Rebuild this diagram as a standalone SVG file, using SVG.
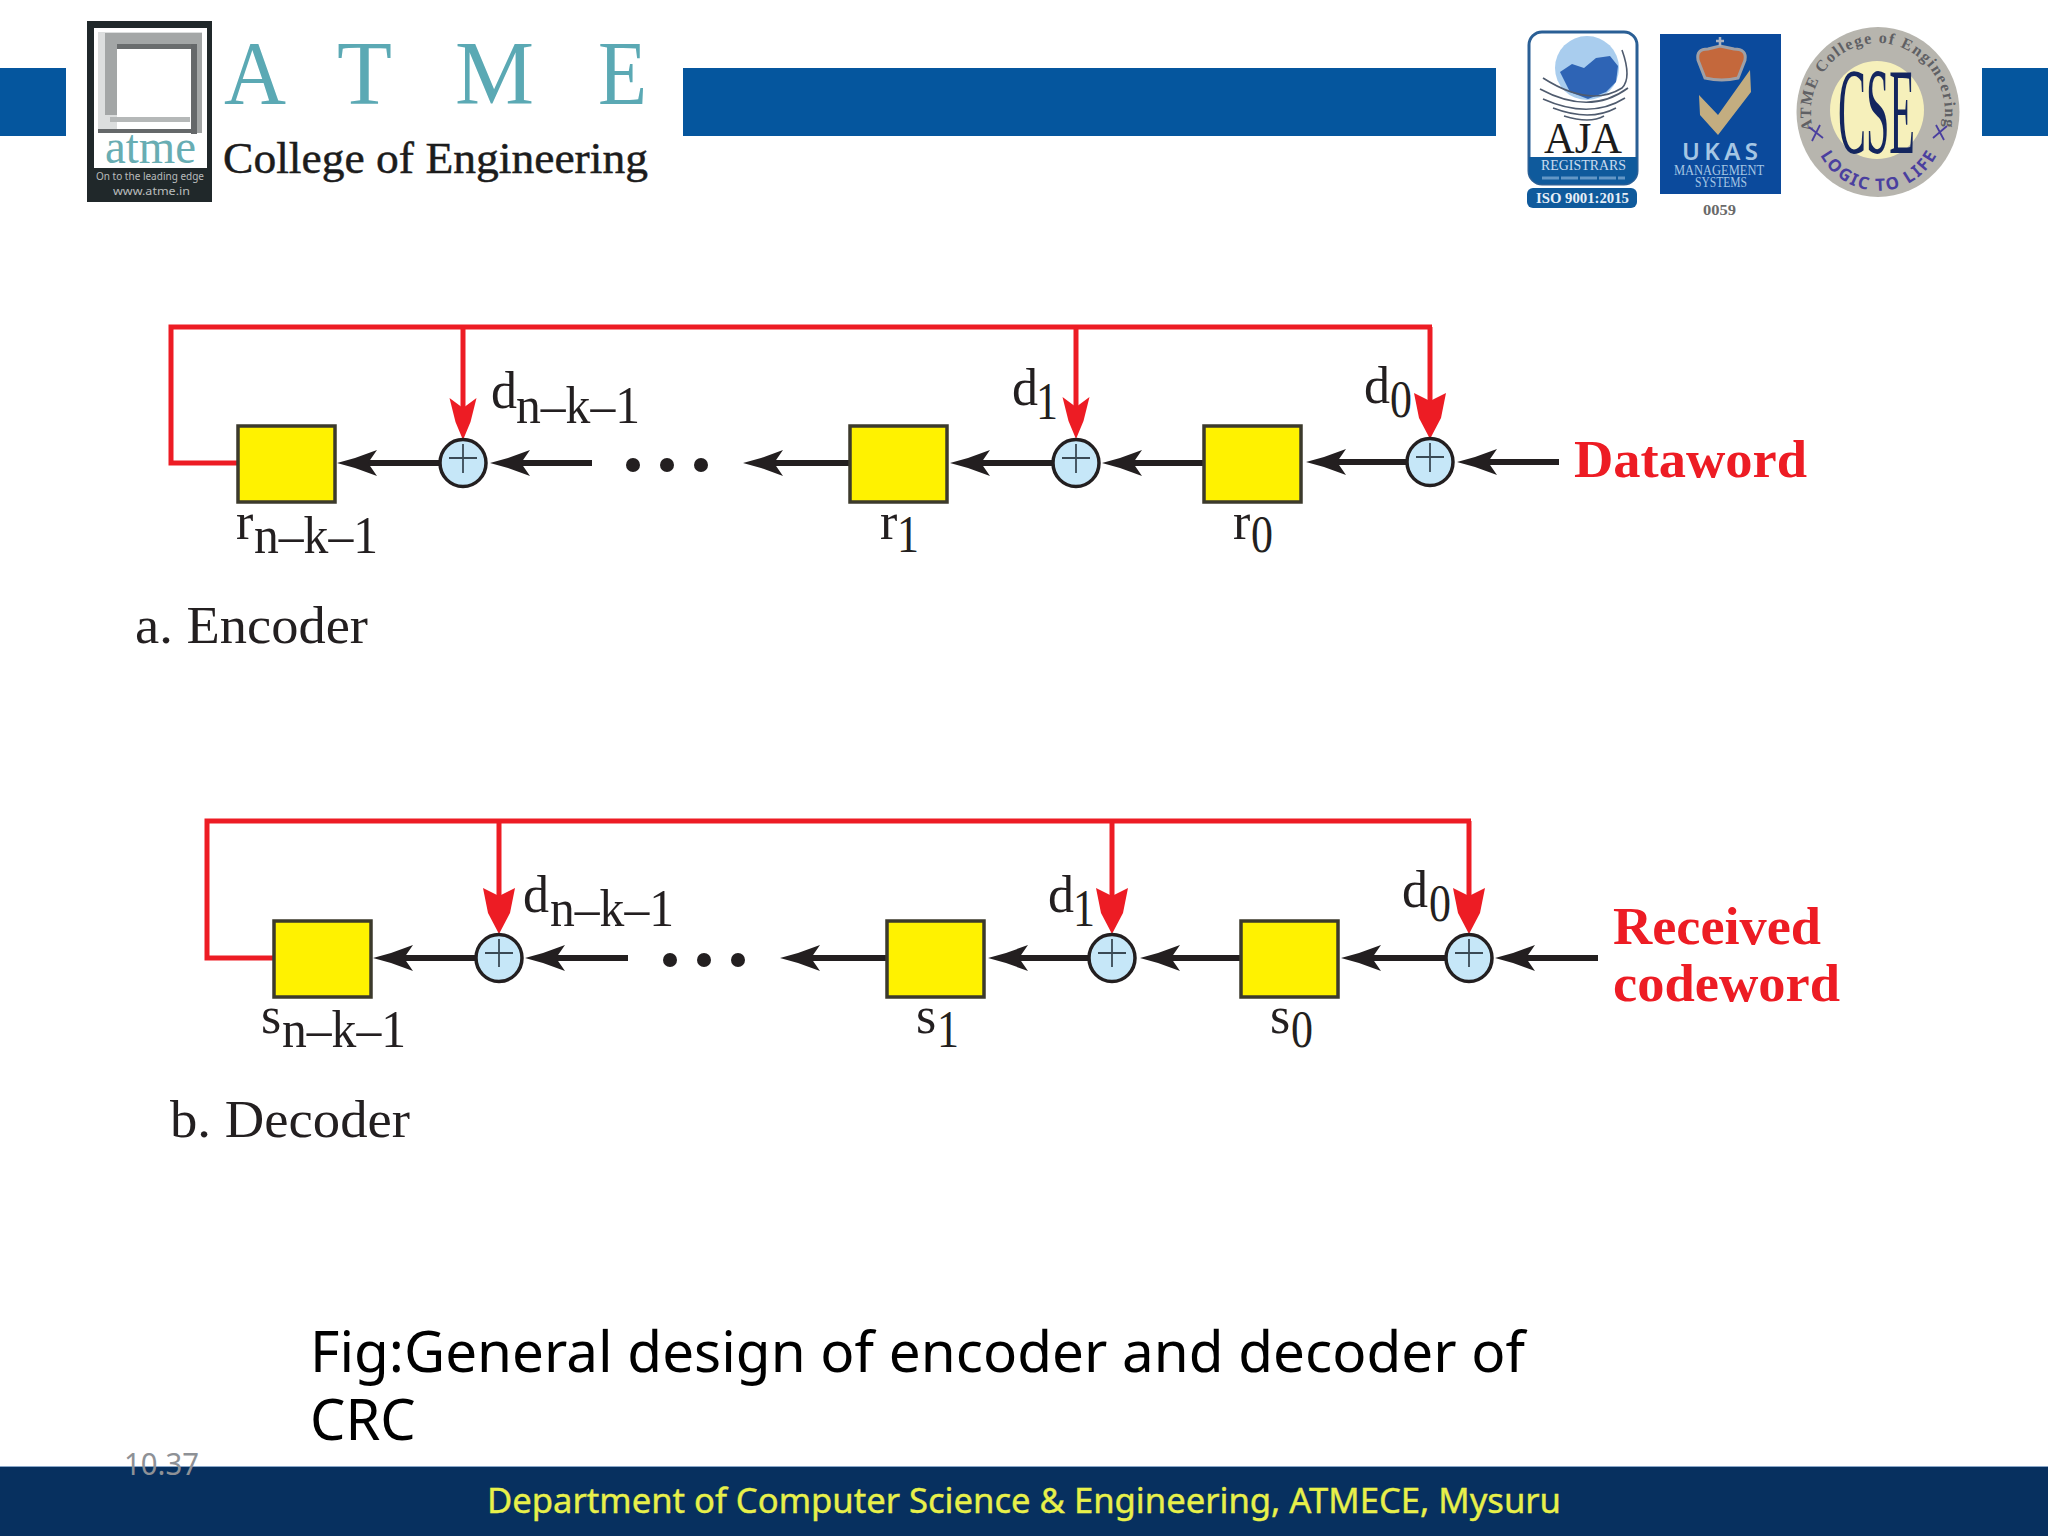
<svg xmlns="http://www.w3.org/2000/svg" width="2048" height="1536" viewBox="0 0 2048 1536">
<style>
.t{font-family:"Liberation Serif",serif;font-size:52px;fill:#231f20}
.b{font-family:"Liberation Serif",serif;font-size:52px;font-weight:700;fill:#ed1c24}
.reg{fill:#fff200;stroke:#3c3a2c;stroke-width:3.5}
.xor{fill:#c6e7f8;stroke:#231f20;stroke-width:3.5}
.plus{stroke:#3a4a55;stroke-width:1.8;fill:none}
.red{fill:none;stroke:#ed1c24;stroke-width:5}
.blk{fill:none;stroke:#231f20;stroke-width:6}
.s{font-family:"Liberation Serif",serif}
.a{font-family:"Noto Sans","Open Sans",sans-serif}
</style>
<defs>
<marker id="hb" markerUnits="userSpaceOnUse" markerWidth="44" markerHeight="30" refX="12" refY="13" orient="auto" viewBox="0 0 44 26"><path d="M40,13 L22,8 L0,0 L9,13 L0,26 L22,18 Z" fill="#231f20"/></marker>
<marker id="hr" markerUnits="userSpaceOnUse" markerWidth="44" markerHeight="30" refX="12" refY="13.5" orient="auto" viewBox="0 0 44 27"><path d="M42,13.5 L24,6 L0,0 L10,13.5 L0,27 L24,21 Z" fill="#ed1c24"/></marker>
<marker id="hw" markerUnits="userSpaceOnUse" markerWidth="48" markerHeight="34" refX="12" refY="16" orient="auto" viewBox="0 0 48 32"><path d="M46,16 L25,5 L0,0 L8,16 L0,32 L25,27 Z" fill="#ed1c24"/></marker>
<path id="arcTop" d="M-65,18 A67,70 0 1 1 65,18"/>
<path id="arcBot" d="M-62,34 A67,70 0 0 0 63,34"/>
</defs>
<rect width="2048" height="1536" fill="#fff"/>

<g id="header">
<rect x="0" y="68" width="66" height="68" fill="#05569e"/>
<rect x="683" y="68" width="813" height="68" fill="#05569e"/>
<rect x="1982" y="68" width="66" height="68" fill="#05569e"/>
</g>

<g id="atme-logo">
<rect x="87" y="21" width="125" height="181" fill="#20282a"/>
<rect x="94" y="28" width="113" height="140" fill="#fff"/>
<path d="M98,32 H202 V45 H117 V133 H98 Z" fill="#dcdede"/>
<path d="M105,33 H202 V133 H192 V44 H117 V115 H105 Z" fill="#a3a6a6"/>
<rect x="117" y="44" width="75" height="5" fill="#6a6d6e"/>
<rect x="191" y="44" width="6" height="90" fill="#65686a"/>
<rect x="98" y="129" width="99" height="4" fill="#65686a"/>
<rect x="110" y="117" width="80" height="5" fill="#b5b8b8"/>
<text x="105" y="163" class="s" font-size="48" fill="#68adb3" textLength="91" lengthAdjust="spacingAndGlyphs">atme</text>
<text x="96" y="180" class="a" font-size="11" fill="#b9bcbc" textLength="108" lengthAdjust="spacingAndGlyphs">On to the leading edge</text>
<text x="113" y="195" class="a" font-size="11" fill="#b9bcbc" textLength="77" lengthAdjust="spacingAndGlyphs">www.atme.in</text>
<g class="s" font-size="90" fill="#5ba9b4">
<text x="224" y="104" textLength="62" lengthAdjust="spacingAndGlyphs">A</text>
<text x="337" y="104" textLength="55" lengthAdjust="spacingAndGlyphs">T</text>
<text x="455" y="104" textLength="79" lengthAdjust="spacingAndGlyphs">M</text>
<text x="598" y="104" textLength="49" lengthAdjust="spacingAndGlyphs">E</text>
</g>
<text x="223" y="173" class="s" font-size="45" fill="#1c1c1c" stroke="#1c1c1c" stroke-width="0.5" textLength="425" lengthAdjust="spacingAndGlyphs">College of Engineering</text>
</g>

<g id="aja-logo">
<rect x="1529" y="32" width="108" height="152" rx="13" fill="#fff" stroke="#2a5f95" stroke-width="3"/>
<path d="M1529,157 H1637 V171 A13,13 0 0 1 1624,184 H1542 A13,13 0 0 1 1529,171 Z" fill="#0f5a9c"/>
<ellipse cx="1587" cy="68" rx="32" ry="32" fill="#a9cdee"/>
<path d="M1560,72 L1572,64 L1584,68 L1596,58 L1610,56 L1618,66 L1616,82 L1606,92 L1588,99 L1570,92 Z" fill="#2e64b5"/>
<g fill="none" stroke="#4f5b6e" stroke-width="1.6">
<path d="M1543,78 Q1590,108 1622,88 Q1632,78 1622,50"/>
<path d="M1540,89 Q1590,116 1628,88"/>
<path d="M1543,99 Q1590,120 1625,98"/>
<path d="M1553,108 Q1590,122 1616,108"/>
<path d="M1564,116 Q1590,124 1604,116"/>
</g>
<text x="1544" y="153" class="s" font-size="44" fill="#1c1c1c" textLength="78" lengthAdjust="spacingAndGlyphs">AJA</text>
<text x="1541" y="170" class="s" font-size="14" fill="#c9dcf0" textLength="85" lengthAdjust="spacingAndGlyphs">REGISTRARS</text>
<path d="M1542,178 H1625" stroke="#9cc0e2" stroke-width="3" stroke-dasharray="17 2" opacity="0.6"/>
<rect x="1527" y="188" width="110" height="20" rx="6" fill="#0f5a9c"/>
<text x="1536" y="203" class="s" font-size="14" font-weight="700" fill="#e6eef7" textLength="93" lengthAdjust="spacingAndGlyphs">ISO 9001:2015</text>
</g>

<g id="ukas-logo">
<rect x="1660" y="34" width="121" height="160" fill="#0b4a9c"/>
<path d="M1698,60 Q1696,49 1708,49 L1720,46 L1734,49 Q1747,49 1745,60 L1738,78 Q1722,82 1705,78 Z" fill="#c4683c" stroke="#9fa0a6" stroke-width="3"/>
<path d="M1720,37 V46 M1716,41 H1724" stroke="#a9b0bd" stroke-width="2.5"/>
<path d="M1699,95 L1718,115 L1750,70 L1751,92 L1718,135 L1700,115 Z" fill="#c3ad80"/>
<text x="1682" y="160" class="a" font-size="24" font-weight="600" fill="#a5c6e4" textLength="76" lengthAdjust="spacing">UKAS</text>
<text x="1674" y="175" class="s" font-size="14" fill="#a5c6e4" textLength="90" lengthAdjust="spacingAndGlyphs">MANAGEMENT</text>
<text x="1695" y="187" class="s" font-size="14" fill="#a5c6e4" textLength="52" lengthAdjust="spacingAndGlyphs">SYSTEMS</text>
<text x="1703" y="215" class="s" font-size="14" font-weight="700" fill="#6a6a6a" textLength="33" lengthAdjust="spacingAndGlyphs">0059</text>
</g>

<g id="cse-logo">
<ellipse cx="1878" cy="112" rx="81.5" ry="85" fill="#b7b5ae"/>
<ellipse cx="1877" cy="110" rx="47" ry="49" fill="#f6f0bb"/>
<text transform="translate(1838,153) scale(1,2.45)" class="s" font-size="50" fill="#14265f" textLength="77" lengthAdjust="spacingAndGlyphs">CSE</text>
<text transform="translate(1878,112)" class="s" font-size="16" font-weight="700" fill="#5f6064" letter-spacing="1.5"><textPath href="#arcTop">ATME College of Engineering</textPath></text>
<text transform="translate(1878,112)" class="a" font-size="17" font-weight="700" fill="#4a3f9f" letter-spacing="2"><textPath href="#arcBot" startOffset="10">LOGIC TO LIFE</textPath></text>
<path d="M1809,127 L1823,138 M1820,125 L1812,141 M1933,138 L1947,126 M1936,125 L1944,140" stroke="#4a3f9f" stroke-width="1.8" fill="none"/>
</g>

<g id="connectors">
<path class="red" d="M238,463 H171 V327 H1432"/>
<path class="red" marker-end="url(#hr)" d="M463,327 V410"/>
<path class="red" marker-end="url(#hr)" d="M1076,327 V409"/>
<path class="red" marker-end="url(#hw)" d="M1430,327 V405"/>
<path class="blk" marker-end="url(#hb)" d="M440,463 H365"/>
<path class="blk" marker-end="url(#hb)" d="M592,463 H518"/>
<path class="blk" marker-end="url(#hb)" d="M850,463 H771"/>
<path class="blk" marker-end="url(#hb)" d="M1053,463 H978"/>
<path class="blk" marker-end="url(#hb)" d="M1204,463 H1130"/>
<path class="blk" marker-end="url(#hb)" d="M1407,462 H1334"/>
<path class="blk" marker-end="url(#hb)" d="M1559,462 H1485"/>

<path class="red" d="M274,958 H207 V821 H1471"/>
<path class="red" marker-end="url(#hw)" d="M499,821 V900"/>
<path class="red" marker-end="url(#hw)" d="M1112,821 V900"/>
<path class="red" marker-end="url(#hw)" d="M1469,821 V900"/>
<path class="blk" marker-end="url(#hb)" d="M475,958 H401"/>
<path class="blk" marker-end="url(#hb)" d="M628,958 H553"/>
<path class="blk" marker-end="url(#hb)" d="M887,958 H808"/>
<path class="blk" marker-end="url(#hb)" d="M1088,958 H1016"/>
<path class="blk" marker-end="url(#hb)" d="M1241,958 H1168"/>
<path class="blk" marker-end="url(#hb)" d="M1445,958 H1369"/>
<path class="blk" marker-end="url(#hb)" d="M1598,958 H1523"/>
</g>

<g id="enc-r-n-k-1"><rect class="reg" x="238" y="426" width="97" height="76"/><text class="t" x="236" y="539">r</text><text class="t" x="254" y="553" textLength="124" lengthAdjust="spacingAndGlyphs">n–k–1</text></g>
<g id="enc-xor-n-k-1"><ellipse class="xor" cx="463" cy="463" rx="23" ry="23.5"/><path class="plus" d="M449,458 H477 M463,444 V473"/><text class="t" x="491" y="408">d</text><text class="t" x="516" y="423" textLength="124" lengthAdjust="spacingAndGlyphs">n–k–1</text></g>
<g id="enc-dots" fill="#231f20"><circle cx="633" cy="465" r="7"/><circle cx="667" cy="465" r="7"/><circle cx="701" cy="465" r="7"/></g>
<g id="enc-r1"><rect class="reg" x="850" y="426" width="97" height="76"/><text class="t" x="880" y="539">r</text><text class="t" x="897" y="552" textLength="22" lengthAdjust="spacingAndGlyphs">1</text></g>
<g id="enc-xor-1"><ellipse class="xor" cx="1076" cy="463" rx="23" ry="23.5"/><path class="plus" d="M1062,458 H1090 M1076,444 V473"/><text class="t" x="1012" y="405">d</text><text class="t" x="1036" y="419" textLength="22" lengthAdjust="spacingAndGlyphs">1</text></g>
<g id="enc-r0"><rect class="reg" x="1204" y="426" width="97" height="76"/><text class="t" x="1233" y="539">r</text><text class="t" x="1251" y="552" textLength="22" lengthAdjust="spacingAndGlyphs">0</text></g>
<g id="enc-xor-0"><ellipse class="xor" cx="1430" cy="462" rx="23" ry="23.5"/><path class="plus" d="M1416,457 H1444 M1430,443 V472"/><text class="t" x="1364" y="403">d</text><text class="t" x="1390" y="417" textLength="22" lengthAdjust="spacingAndGlyphs">0</text></g>
<text id="dataword" class="b" x="1574" y="477" textLength="233" lengthAdjust="spacingAndGlyphs">Dataword</text>
<text id="cap-a" class="t" x="135" y="643" textLength="233" lengthAdjust="spacingAndGlyphs">a. Encoder</text>

<g id="dec-s-n-k-1"><rect class="reg" x="274" y="921" width="97" height="76"/><text class="t" x="261" y="1033">s</text><text class="t" x="282" y="1047" textLength="124" lengthAdjust="spacingAndGlyphs">n–k–1</text></g>
<g id="dec-xor-n-k-1"><ellipse class="xor" cx="499" cy="958" rx="23" ry="23.5"/><path class="plus" d="M485,953 H513 M499,939 V967"/><text class="t" x="523" y="912">d</text><text class="t" x="550" y="926" textLength="124" lengthAdjust="spacingAndGlyphs">n–k–1</text></g>
<g id="dec-dots" fill="#231f20"><circle cx="670" cy="960" r="7"/><circle cx="704" cy="960" r="7"/><circle cx="738" cy="960" r="7"/></g>
<g id="dec-s1"><rect class="reg" x="887" y="921" width="97" height="76"/><text class="t" x="916" y="1033">s</text><text class="t" x="937" y="1047" textLength="22" lengthAdjust="spacingAndGlyphs">1</text></g>
<g id="dec-xor-1"><ellipse class="xor" cx="1112" cy="958" rx="23" ry="23.5"/><path class="plus" d="M1098,953 H1126 M1112,939 V967"/><text class="t" x="1048" y="912">d</text><text class="t" x="1073" y="926" textLength="22" lengthAdjust="spacingAndGlyphs">1</text></g>
<g id="dec-s0"><rect class="reg" x="1241" y="921" width="97" height="76"/><text class="t" x="1270" y="1033">s</text><text class="t" x="1291" y="1047" textLength="22" lengthAdjust="spacingAndGlyphs">0</text></g>
<g id="dec-xor-0"><ellipse class="xor" cx="1469" cy="958" rx="23" ry="23.5"/><path class="plus" d="M1455,953 H1483 M1469,939 V967"/><text class="t" x="1402" y="907">d</text><text class="t" x="1429" y="921" textLength="22" lengthAdjust="spacingAndGlyphs">0</text></g>
<g id="received"><text class="b" x="1613" y="944" textLength="208" lengthAdjust="spacingAndGlyphs">Received</text><text class="b" x="1613" y="1001" textLength="227" lengthAdjust="spacingAndGlyphs">codeword</text></g>
<text id="cap-b" class="t" x="170" y="1137" textLength="240" lengthAdjust="spacingAndGlyphs">b. Decoder</text>

<g id="caption" class="a" font-size="56" fill="#000">
<text x="310" y="1372" textLength="1215" lengthAdjust="spacingAndGlyphs">Fig:General design of encoder and decoder of</text>
<text x="310" y="1440">CRC</text>
</g>

<g id="footer">
<rect x="0" y="1466" width="2048" height="1.5" fill="#8aa7c8"/>
<rect x="0" y="1467" width="2048" height="69" fill="#07305f"/>
<text x="487" y="1513" class="a" font-size="34" fill="#e8f04a" stroke="#e8f04a" stroke-width="0.4" textLength="1074" lengthAdjust="spacingAndGlyphs">Department of Computer Science &amp; Engineering, ATMECE, Mysuru</text>
<text x="124" y="1475" class="a" font-size="30" fill="#8e9196" textLength="75" lengthAdjust="spacingAndGlyphs">10.37</text>
</g>
</svg>
